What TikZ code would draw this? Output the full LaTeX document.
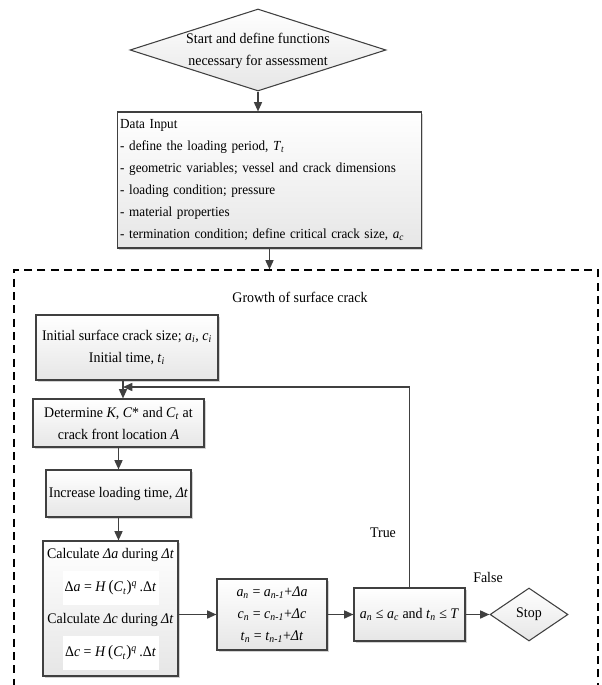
\documentclass[tikz,border=0pt]{standalone}
\usepackage{fontspec}
\setmainfont{Liberation Serif}[FakeStretch=0.95]
\usetikzlibrary{shapes.geometric, arrows.meta, shadows}
\definecolor{boxline}{RGB}{64,64,64}
\definecolor{boxfill}{RGB}{230,230,230}
\newcommand{\isub}[2]{\textit{#1}\textsubscript{\textit{#2}}}

\begin{document}
\begin{tikzpicture}[x=0.75pt, y=-0.75pt,
    font=\fontsize{11}{16.5}\selectfont,
    box/.style={rectangle, draw=boxline, line width=0.8pt, top color=white, bottom color=boxfill,
        drop shadow={shadow xshift=1.2pt, shadow yshift=-1.2pt, fill=black!35}, align=center, inner sep=2pt},
    decision/.style={diamond, draw=boxline, line width=0.8pt, top color=white, bottom color=boxfill,
        align=center, inner sep=0pt},
    arrow/.style={-{Triangle[length=7pt, width=6pt]}, line width=1.2pt, boxline},
    eqn/.style={fill=white, minimum width=72pt, minimum height=25pt, inner sep=1pt}
]
    \useasboundingbox (0,0) rectangle (602,685);
    \clip (0,0) rectangle (602,685);

    % Start and input
    \node[decision, minimum width=192pt, minimum height=61.5pt] (start) at (258,50) {};
    \node[align=center] (starttext) at (258,51) {Start and define functions\\necessary for assessment};
    \node[box, align=left, text width=224pt, minimum height=102pt,
        font=\fontsize{10.4}{16.5}\selectfont] (data) at (269.5,180) {%
        Data Input\\
        - define the loading period, \isub{T}{t}\\
        - geometric variables; vessel and crack dimensions\\
        - loading condition; pressure\\
        - material properties\\
        - termination condition; define critical crack size, \isub{a}{c}};

    % Dashed frame for the growth loop
    \node[draw=black, dash pattern=on 6pt off 4pt, line width=0.8pt,
        minimum width=438pt, minimum height=337.5pt] (growth) at (306,495) {};
    \node (growthtitle) at (300,297) {Growth of surface crack};

    \draw[arrow] (start.south) -- (start.south |- data.north);
    \draw[arrow] (data.south) -- (data.south |- growth.north);

    % Left column
    \node[box, minimum width=136.5pt, minimum height=48.75pt] (init) at (127,347.5)
        {Initial surface crack size; \isub{a}{i}, \isub{c}{i}\\Initial time, \isub{t}{i}};
    \node[box, minimum width=128.25pt, minimum height=36pt, inner sep=1pt] (det) at (118.5,423)
        {Determine \textit{K}, \textit{C}* and \isub{C}{t} at\\crack front location \textit{A}};
    \node[box, minimum width=108.75pt, minimum height=35.25pt] (inc) at (118.5,493.5)
        {Increase loading time, \textit{Δt}};
    \node[box, minimum width=101.25pt, minimum height=101.25pt] (calc) at (110.5,608.5) {};
    \node (calca) at (110.5,555) {Calculate \textit{Δa} during \textit{Δt}};
    \node[eqn] (eqa) at (110.5,588)
        {Δ\textit{a} = \textit{H}\,{\large(}\textit{C}\textsubscript{\textit{t}}{\large)}\textsuperscript{\textit{q}}\,.Δ\textit{t}};
    \node (calcc) at (110.5,620) {Calculate \textit{Δc} during \textit{Δt}};
    \node[eqn] (eqc) at (110.5,653)
        {Δ\textit{c} = \textit{H}\,{\large(}\textit{C}\textsubscript{\textit{t}}{\large)}\textsuperscript{\textit{q}}\,.Δ\textit{t}};

    % Update and check
    \node[box, minimum width=82.5pt, minimum height=53.25pt, inner sep=1pt] (upd) at (272,614.5)
        {\isub{a}{n} = \isub{a}{n-1}+\textit{Δa}\\\isub{c}{n} = \isub{c}{n-1}+\textit{Δc}\\\isub{t}{n} = \isub{t}{n-1}+\textit{Δt}};
    \node[box, minimum width=83.25pt, minimum height=39.75pt, inner sep=1pt] (cond) at (409.5,614.5)
        {\isub{a}{n} ≤ \isub{a}{c} and \isub{t}{n} ≤ \textit{T}};
    \node[decision, minimum width=58.5pt, minimum height=39.75pt] (stop) at (529,614.5) {Stop};

    \coordinate (loop) at (123,387);
    \draw[arrow] (init.south -| loop) -- (det.north -| loop);
    \draw[arrow] (det.south) -- (det.south |- inc.north);
    \draw[arrow] (inc.south) -- (inc.south |- calc.north);
    \draw[arrow] (calc.east |- upd.west) -- (upd.west);
    \draw[arrow] (upd.east) -- (cond.west);
    \draw[arrow] (cond.east) -- (stop.west);
    \draw[arrow] (cond.north) |- (loop);

    \node (truelbl) at (383,533) {True};
    \node (falselbl) at (488,577) {False};
\end{tikzpicture}
\end{document}
